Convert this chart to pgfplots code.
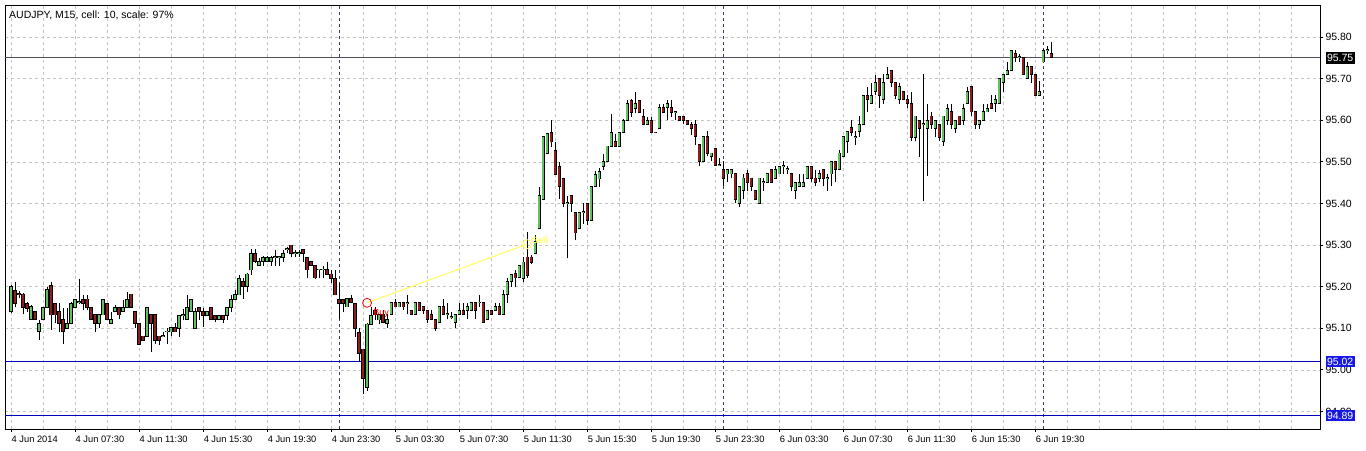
\documentclass[border=0pt]{standalone}
\usepackage{pgfplots}
\pgfplotsset{compat=1.18}
\usepackage{pgfplotstable}
\usepackage{fontspec}
\setmainfont{Liberation Sans}
\definecolor{bull}{RGB}{100,190,100}
\definecolor{bear}{RGB}{140,30,30}
\definecolor{gridc}{RGB}{196,196,196}
\definecolor{sepc}{RGB}{60,60,90}
\definecolor{navyc}{RGB}{0,0,185}
\definecolor{boxblue}{RGB}{24,24,230}
\definecolor{plinec}{RGB}{80,80,100}
\definecolor{tradey}{RGB}{255,255,90}
\pgfplotstableread{
x o h l c
0 95.140 95.203 95.136 95.200
1 95.190 95.212 95.152 95.160
2 95.183 95.190 95.172 95.181
3 95.182 95.184 95.133 95.150
4 95.160 95.164 95.140 95.148
5 95.122 95.156 95.120 95.152
6 95.141 95.142 95.120 95.121
7 95.092 95.120 95.071 95.112
8 95.121 95.150 95.119 95.149
9 95.149 95.200 95.148 95.192
10 95.202 95.212 95.096 95.132
11 95.160 95.161 95.112 95.132
12 95.140 95.160 95.092 95.112
13 95.121 95.148 95.063 95.092
14 95.100 95.148 95.099 95.112
15 95.112 95.162 95.111 95.160
16 95.149 95.171 95.148 95.169
17 95.162 95.219 95.158 95.165
18 95.169 95.180 95.143 95.160
19 95.170 95.180 95.143 95.149
20 95.149 95.150 95.120 95.121
21 95.132 95.133 95.092 95.112
22 95.112 95.133 95.100 95.132
23 95.132 95.170 95.131 95.169
24 95.160 95.161 95.120 95.121
25 95.112 95.140 95.111 95.121
26 95.140 95.156 95.139 95.149
27 95.149 95.150 95.121 95.132
28 95.140 95.168 95.139 95.149
29 95.149 95.188 95.148 95.169
30 95.182 95.183 95.148 95.149
31 95.140 95.141 95.100 95.112
32 95.112 95.113 95.061 95.062
33 95.081 95.082 95.070 95.071
34 95.081 95.150 95.080 95.149
35 95.132 95.133 95.042 95.112
36 95.132 95.133 95.062 95.071
37 95.081 95.082 95.060 95.071
38 95.081 95.091 95.080 95.083
39 95.091 95.100 95.062 95.093
40 95.091 95.102 95.081 95.101
41 95.101 95.112 95.090 95.091
42 95.100 95.132 95.080 95.131
43 95.130 95.147 95.120 95.132
44 95.121 95.180 95.120 95.150
45 95.140 95.170 95.139 95.169
46 95.100 95.148 95.099 95.140
47 95.150 95.151 95.120 95.140
48 95.140 95.148 95.103 95.131
49 95.131 95.141 95.130 95.140
50 95.150 95.151 95.120 95.121
51 95.131 95.132 95.115 95.121
52 95.121 95.132 95.120 95.131
53 95.131 95.132 95.113 95.121
54 95.131 95.151 95.120 95.150
55 95.150 95.180 95.140 95.169
56 95.169 95.192 95.168 95.180
57 95.180 95.228 95.179 95.220
58 95.212 95.220 95.171 95.200
59 95.200 95.232 95.188 95.230
60 95.240 95.290 95.228 95.280
61 95.280 95.290 95.256 95.260
62 95.250 95.268 95.249 95.260
63 95.260 95.273 95.250 95.270
64 95.260 95.273 95.259 95.270
65 95.260 95.273 95.250 95.270
66 95.270 95.288 95.250 95.272
67 95.270 95.274 95.250 95.272
68 95.270 95.288 95.260 95.280
69 95.290 95.296 95.280 95.292
70 95.300 95.301 95.270 95.280
71 95.280 95.288 95.270 95.282
72 95.280 95.288 95.270 95.282
73 95.290 95.291 95.260 95.280
74 95.270 95.271 95.220 95.240
75 95.260 95.261 95.249 95.250
76 95.250 95.251 95.219 95.221
77 95.240 95.243 95.220 95.242
78 95.240 95.250 95.220 95.242
79 95.240 95.260 95.229 95.230
80 95.230 95.240 95.208 95.220
81 95.220 95.240 95.179 95.180
82 95.169 95.208 95.121 95.160
83 95.169 95.170 95.140 95.160
84 95.151 95.172 95.150 95.171
85 95.171 95.181 95.160 95.161
86 95.160 95.161 95.080 95.100
87 95.090 95.100 95.022 95.040
88 95.050 95.051 94.941 94.980
89 94.957 95.112 94.950 95.110
90 95.110 95.150 95.109 95.130
91 95.143 95.150 95.120 95.133
92 95.120 95.135 95.110 95.133
93 95.133 95.143 95.112 95.113
94 95.111 95.133 95.100 95.121
95 95.133 95.162 95.132 95.161
96 95.161 95.171 95.150 95.151
97 95.151 95.162 95.150 95.161
98 95.161 95.162 95.143 95.151
99 95.160 95.181 95.133 95.162
100 95.143 95.144 95.132 95.133
101 95.133 95.162 95.132 95.161
102 95.161 95.162 95.142 95.143
103 95.151 95.152 95.133 95.143
104 95.143 95.144 95.113 95.121
105 95.133 95.143 95.120 95.121
106 95.121 95.122 95.093 95.100
107 95.113 95.152 95.112 95.151
108 95.151 95.171 95.132 95.133
109 95.133 95.161 95.121 95.135
110 95.125 95.140 95.121 95.127
111 95.113 95.134 95.100 95.133
112 95.133 95.161 95.132 95.143
113 95.143 95.161 95.132 95.133
114 95.143 95.161 95.121 95.151
115 95.143 95.162 95.142 95.161
116 95.161 95.162 95.121 95.143
117 95.161 95.181 95.151 95.163
118 95.161 95.162 95.112 95.113
119 95.121 95.144 95.120 95.143
120 95.143 95.144 95.132 95.133
121 95.143 95.161 95.142 95.151
122 95.151 95.161 95.132 95.133
123 95.133 95.193 95.132 95.181
124 95.181 95.221 95.161 95.212
125 95.212 95.229 95.200 95.228
126 95.231 95.240 95.200 95.221
127 95.223 95.253 95.222 95.251
128 95.220 95.270 95.210 95.259
129 95.271 95.331 95.220 95.226
130 95.271 95.275 95.255 95.259
131 95.279 95.325 95.278 95.309
132 95.339 95.440 95.338 95.419
133 95.409 95.561 95.408 95.560
134 95.520 95.569 95.519 95.568
135 95.570 95.600 95.536 95.548
136 95.528 95.548 95.468 95.469
137 95.489 95.500 95.411 95.440
138 95.459 95.460 95.391 95.400
139 95.400 95.419 95.268 95.402
140 95.419 95.420 95.379 95.400
141 95.379 95.380 95.311 95.329
142 95.339 95.380 95.338 95.379
143 95.379 95.400 95.351 95.381
144 95.400 95.401 95.347 95.359
145 95.359 95.441 95.358 95.440
146 95.440 95.477 95.439 95.469
147 95.459 95.484 95.440 95.477
148 95.489 95.520 95.480 95.500
149 95.500 95.539 95.499 95.538
150 95.538 95.616 95.537 95.570
151 95.548 95.568 95.537 95.538
152 95.538 95.571 95.537 95.570
153 95.570 95.604 95.569 95.600
154 95.600 95.648 95.599 95.640
155 95.648 95.652 95.608 95.618
156 95.628 95.668 95.618 95.640
157 95.648 95.649 95.617 95.618
158 95.608 95.628 95.589 95.590
159 95.590 95.608 95.589 95.600
160 95.600 95.608 95.569 95.570
161 95.571 95.572 95.569 95.570
162 95.580 95.640 95.579 95.630
163 95.630 95.640 95.617 95.618
164 95.630 95.648 95.600 95.640
165 95.630 95.648 95.608 95.618
166 95.618 95.621 95.600 95.620
167 95.608 95.609 95.599 95.600
168 95.608 95.609 95.590 95.600
169 95.600 95.601 95.589 95.590
170 95.590 95.595 95.565 95.580
171 95.590 95.600 95.541 95.561
172 95.541 95.542 95.491 95.501
173 95.501 95.562 95.500 95.561
174 95.561 95.573 95.513 95.521
175 95.512 95.522 95.501 95.521
176 95.531 95.532 95.490 95.491
177 95.491 95.509 95.490 95.493
178 95.481 95.501 95.441 95.461
179 95.471 95.482 95.451 95.481
180 95.471 95.482 95.461 95.481
181 95.471 95.472 95.401 95.410
182 95.401 95.442 95.391 95.441
183 95.431 95.471 95.410 95.461
184 95.471 95.481 95.431 95.451
185 95.461 95.462 95.431 95.441
186 95.431 95.432 95.409 95.410
187 95.401 95.462 95.400 95.461
188 95.451 95.461 95.431 95.453
189 95.451 95.472 95.450 95.471
190 95.481 95.482 95.450 95.451
191 95.461 95.489 95.460 95.481
192 95.471 95.491 95.470 95.489
193 95.489 95.501 95.471 95.491
194 95.481 95.489 95.471 95.483
195 95.471 95.472 95.431 95.441
196 95.431 95.452 95.410 95.451
197 95.441 95.471 95.440 95.451
198 95.441 95.471 95.440 95.451
199 95.461 95.490 95.460 95.489
200 95.489 95.490 95.451 95.461
201 95.461 95.481 95.441 95.451
202 95.461 95.481 95.451 95.471
203 95.481 95.482 95.441 95.461
204 95.461 95.471 95.431 95.463
205 95.471 95.502 95.441 95.501
206 95.501 95.502 95.451 95.481
207 95.481 95.529 95.480 95.521
208 95.512 95.562 95.511 95.561
209 95.549 95.574 95.521 95.573
210 95.582 95.600 95.561 95.571
211 95.559 95.573 95.541 95.561
212 95.573 95.610 95.559 95.589
213 95.589 95.661 95.588 95.660
214 95.660 95.680 95.620 95.650
215 95.640 95.690 95.639 95.660
216 95.669 95.708 95.660 95.690
217 95.700 95.701 95.629 95.660
218 95.650 95.710 95.640 95.690
219 95.700 95.728 95.699 95.710
220 95.720 95.721 95.680 95.690
221 95.690 95.691 95.650 95.660
222 95.650 95.690 95.640 95.680
223 95.669 95.670 95.648 95.650
224 95.650 95.660 95.629 95.640
225 95.640 95.669 95.549 95.559
226 95.559 95.611 95.549 95.610
227 95.600 95.601 95.511 95.580
228 95.589 95.710 95.407 95.591
229 95.580 95.640 95.467 95.600
230 95.610 95.620 95.580 95.589
231 95.580 95.601 95.559 95.600
232 95.589 95.590 95.549 95.559
233 95.549 95.611 95.539 95.610
234 95.600 95.640 95.589 95.629
235 95.620 95.640 95.580 95.589
236 95.580 95.601 95.570 95.600
237 95.610 95.611 95.588 95.589
238 95.600 95.640 95.589 95.629
239 95.640 95.680 95.639 95.669
240 95.680 95.681 95.610 95.620
241 95.620 95.621 95.580 95.589
242 95.589 95.601 95.580 95.600
243 95.600 95.640 95.599 95.620
244 95.620 95.640 95.619 95.629
245 95.640 95.660 95.628 95.629
246 95.640 95.660 95.620 95.650
247 95.640 95.701 95.639 95.700
248 95.690 95.711 95.669 95.710
249 95.710 95.740 95.709 95.720
250 95.720 95.769 95.719 95.768
251 95.760 95.768 95.740 95.751
252 95.751 95.760 95.740 95.753
253 95.751 95.752 95.709 95.710
254 95.700 95.740 95.699 95.728
255 95.728 95.729 95.690 95.710
256 95.710 95.711 95.659 95.660
257 95.660 95.695 95.659 95.669
258 95.740 95.772 95.739 95.768
259 95.768 95.778 95.760 95.770
260 95.760 95.788 95.750 95.751
}\candles
\begin{document}
\begin{tikzpicture}
\useasboundingbox (-5pt,-21pt) rectangle (1361pt,429pt);
\begin{axis}[
  at={(0pt,0pt)}, anchor=south west,
  scale only axis, width=1315pt, height=424pt,
  xmin=-1.5, xmax=327.25, ymin=94.8577, ymax=95.877,
  axis line style={black, line width=0.8pt},
  xtick={0,16,32,48,64,80,96,112,128,144,160,176,192,208,224,240,256},
  xticklabels={4 Jun 2014,4 Jun 07:30,4 Jun 11:30,4 Jun 15:30,4 Jun 19:30,4 Jun 23:30,5 Jun 03:30,5 Jun 07:30,5 Jun 11:30,5 Jun 15:30,5 Jun 19:30,5 Jun 23:30,6 Jun 03:30,6 Jun 07:30,6 Jun 11:30,6 Jun 15:30,6 Jun 19:30},
  minor xtick={8,16,...,320},
  xmajorgrids, xminorgrids, ymajorgrids,
  ytick={94.9,95.0,95.1,95.2,95.3,95.4,95.5,95.6,95.7,95.8},
  yticklabels={94.90,95.00,95.10,95.20,95.30,95.40,95.50,95.60,95.70,95.80},
  grid style={gridc, dash pattern=on 3pt off 3pt, line width=0.6pt},
  minor grid style={gridc, dash pattern=on 3pt off 3pt, line width=0.6pt},
  tick align=outside, xtick pos=bottom, ytick pos=right, yticklabel pos=right,
  major tick length=3pt, minor tick length=0pt,
  tick style={black, line width=0.8pt},
  xticklabel style={anchor=north west, inner sep=0pt, xshift=0.5pt, yshift=-4pt, font=\fontsize{9.3}{11}\selectfont},
  yticklabel style={anchor=west, inner sep=0pt, xshift=2pt, font=\fontsize{10.5}{12}\selectfont},
]
% day separators
\addplot[sepc, line width=0.8pt, dash pattern=on 3pt off 3pt] coordinates {(82,94.8577) (82,95.877)};
\addplot[sepc, line width=0.8pt, dash pattern=on 3pt off 3pt] coordinates {(178,94.8577) (178,95.877)};
\addplot[sepc, line width=0.8pt, dash pattern=on 3pt off 3pt] coordinates {(258,94.8577) (258,95.877)};
% horizontal levels
\addplot[plinec, line width=0.8pt] coordinates {(-1.5,95.75) (327.25,95.75)};
\addplot[navyc, line width=1pt] coordinates {(-1.5,95.02) (327.25,95.02)};
\addplot[navyc, line width=1pt] coordinates {(-1.5,94.89) (327.25,94.89)};
% wicks
\addplot[black, line width=1pt, quiver={u=0, v=\thisrow{h}-\thisrow{l}}] table[x=x, y=l] {\candles};
% body outlines
\addplot[black, line width=3.2pt, quiver={u=0, v=\thisrow{c}-\thisrow{o}, every arrow/.append style={shorten <=-0.5pt, shorten >=-0.5pt}}] table[x=x, y=o] {\candles};
% body fills
\addplot[bull, line width=1.8pt, y filter/.expression={\thisrow{c}>\thisrow{o} ? y : nan}, quiver={u=0, v=\thisrow{c}-\thisrow{o}, every arrow/.append style={shorten <=0.35pt, shorten >=0.35pt}}] table[x=x, y=o] {\candles};
\addplot[bear, line width=1.8pt, y filter/.expression={\thisrow{o}>\thisrow{c} ? y : nan}, quiver={u=0, v=\thisrow{c}-\thisrow{o}, every arrow/.append style={shorten <=0.35pt, shorten >=0.35pt}}] table[x=x, y=o] {\candles};
% trade
\addplot[tradey, line width=1pt] coordinates {(89,95.161) (129,95.302)};
\addplot[only marks, mark=o, mark size=4.5pt, red, mark options={line width=0.8pt}, nodes near coords={Buy}, nodes near coords style={anchor=center, xshift=14pt, yshift=-11pt, red, font=\fontsize{9}{10}\selectfont}] coordinates {(89,95.161)};
\addplot[only marks, mark=o, mark size=4.5pt, tradey, mark options={line width=0.8pt}, nodes near coords={\textbf{Sell}}, nodes near coords style={anchor=center, xshift=13pt, yshift=4pt, tradey, font=\fontsize{9}{10}\selectfont}] coordinates {(129,95.302)};
\node[anchor=west, inner sep=0pt, font=\fontsize{10.5}{12}\selectfont] at (rel axis cs:0,1) [xshift=4pt, yshift=-10pt] {AUDJPY, M15, cell: 10, scale: 97\%};
\coordinate (pA) at (axis cs:327.25,95.75);
\coordinate (pB) at (axis cs:327.25,95.02);
\coordinate (pC) at (axis cs:327.25,94.89);
\end{axis}
\node[anchor=west, fill=black, text=white, inner xsep=1.5pt, inner ysep=0pt, minimum height=11.5pt, xshift=5pt, font=\fontsize{10.5}{12}\selectfont] at (pA) {95.75};
\node[anchor=west, fill=boxblue, text=white, inner xsep=1.5pt, inner ysep=0pt, minimum height=11.5pt, xshift=5pt, font=\fontsize{10.5}{12}\selectfont] at (pB) {95.02};
\node[anchor=west, fill=boxblue, text=white, inner xsep=1.5pt, inner ysep=0pt, minimum height=11.5pt, xshift=5pt, font=\fontsize{10.5}{12}\selectfont] at (pC) {94.89};
\end{tikzpicture}
\end{document}
